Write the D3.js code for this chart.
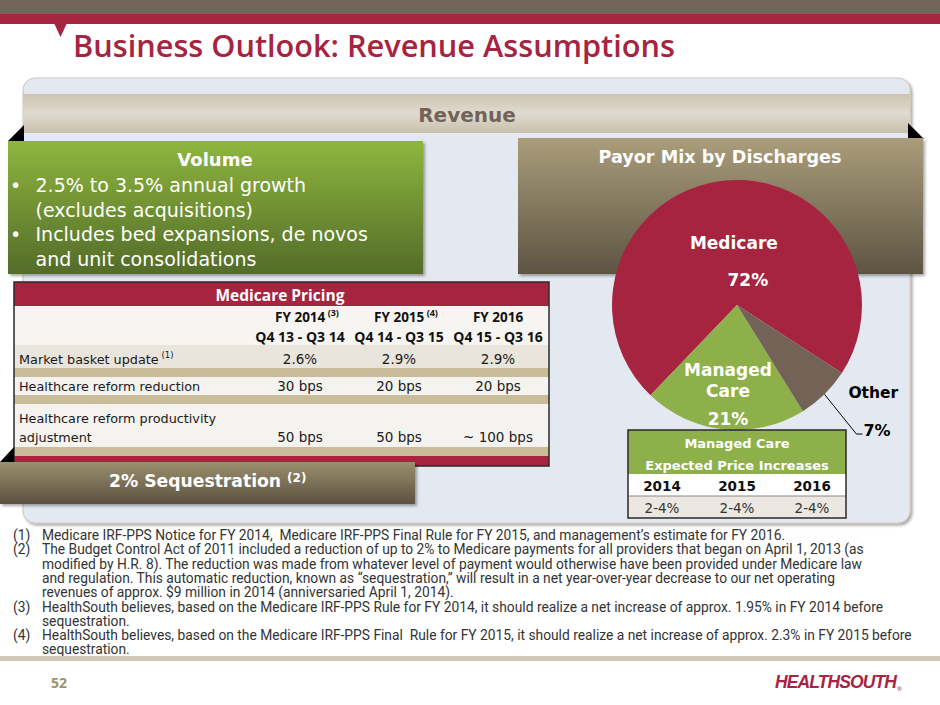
<!DOCTYPE html>
<html>
<head>
<meta charset="utf-8">
<script src="https://cdn.jsdelivr.net/npm/d3@7"></script>
<style>
  html, body { margin: 0; padding: 0; background: #fff; }
  svg { display: block; }
</style>
</head>
<body>
<script>
// Payor mix by discharges (pie)
const payorCategories = ['Medicare', 'Managed Care', 'Other']
const payorShares = [72, 21, 7]

// Medicare pricing table
const pricingYears = ['FY 2014', 'FY 2015', 'FY 2016']
const pricingYearNotes = ['(3)', '(4)', '']
const pricingPeriods = ['Q4 13 - Q3 14', 'Q4 14 - Q3 15', 'Q4 15 - Q3 16']
const pricingLabels = [['Market basket update'], ['Healthcare reform reduction'], ['Healthcare reform productivity', 'adjustment']]
const pricingLabelNotes = ['(1)', '', '']
const marketBasket = ['2.6%', '2.9%', '2.9%']
const reformReduction = ['30 bps', '20 bps', '20 bps']
const productivityAdjustment = ['50 bps', '50 bps', '~ 100 bps']

// Managed care expected price increases
const managedYears = ['2014', '2015', '2016']
const managedIncreases = ['2-4%', '2-4%', '2-4%']

const volumeLines = [
  { bullet: true, text: '2.5% to 3.5% annual growth' },
  { bullet: false, text: '(excludes acquisitions)' },
  { bullet: true, text: 'Includes bed expansions, de novos' },
  { bullet: false, text: 'and unit consolidations' }
]

const footnotes = [
  ['(1)', 'Medicare IRF-PPS Notice for FY 2014,  Medicare IRF-PPS Final Rule for FY 2015, and management\u2019s estimate for FY 2016.'],
  ['(2)', 'The Budget Control Act of 2011 included a reduction of up to 2% to Medicare payments for all providers that began on April 1, 2013 (as'],
  ['', 'modified by H.R. 8). The reduction was made from whatever level of payment would otherwise have been provided under Medicare law'],
  ['', 'and regulation. This automatic reduction, known as \u201csequestration,\u201d will result in a net year-over-year decrease to our net operating'],
  ['', 'revenues of approx. $9 million in 2014 (anniversaried April 1, 2014).'],
  ['(3)', 'HealthSouth believes, based on the Medicare IRF-PPS Rule for FY 2014, it should realize a net increase of approx. 1.95% in FY 2014 before'],
  ['', 'sequestration.'],
  ['(4)', 'HealthSouth believes, based on the Medicare IRF-PPS Final  Rule for FY 2015, it should realize a net increase of approx. 2.3% in FY 2015 before'],
  ['', 'sequestration.']
]

const width = 940
const height = 705
const crimson = '#A6243F'
const gothic = "'DejaVu Sans', sans-serif"
const sans = "'Open Sans', sans-serif"

const svg = d3.select('body').append('svg')
  .attr('width', width)
  .attr('height', height)

const defs = svg.append('defs')
function verticalGradient (id, stops) {
  const g = defs.append('linearGradient')
    .attr('id', id)
    .attr('x1', 0).attr('y1', 0).attr('x2', 0).attr('y2', 1)
  stops.forEach(([offset, colour]) => {
    g.append('stop').attr('offset', offset).attr('stop-color', colour)
  })
}
verticalGradient('grad-revenue', [[0, '#CCC3B0'], [0.5, '#E0DBD0'], [1, '#C9C0AC']])
verticalGradient('grad-green', [[0, '#8EB63E'], [1, '#536C29']])
verticalGradient('grad-tan', [[0, '#AA9D7B'], [1, '#5D5443']])
verticalGradient('grad-seq', [[0, '#9C8F6E'], [1, '#5A5141']])
defs.append('filter')
  .attr('id', 'shadow')
  .attr('x', '-5%').attr('y', '-5%').attr('width', '110%').attr('height', '115%')
  .append('feDropShadow')
  .attr('dx', 2).attr('dy', 2).attr('stdDeviation', 1.5)
  .attr('flood-color', '#000').attr('flood-opacity', 0.35)

// Header bands
svg.append('rect').attr('width', width).attr('height', 14).attr('fill', '#74655A')
svg.append('rect').attr('y', 14).attr('width', width).attr('height', 10).attr('fill', '#A62541')
svg.append('path').attr('d', 'M54,23L67,23L60.5,37Z').attr('fill', '#A62541')
svg.append('text')
  .attr('x', 73).attr('y', 57)
  .attr('font-family', sans).attr('font-weight', 600).attr('font-size', 30.7)
  .attr('fill', crimson)
  .text('Business Outlook: Revenue Assumptions')

// Main panel
svg.append('rect')
  .attr('x', 23).attr('y', 78).attr('width', 887).attr('height', 445).attr('rx', 12)
  .attr('fill', '#E4E9F1').attr('stroke', '#CFC6B0').attr('stroke-width', 1)
  .attr('filter', 'url(#shadow)')
svg.append('rect')
  .attr('x', 23).attr('y', 94).attr('width', 887).attr('height', 39)
  .attr('fill', 'url(#grad-revenue)')
svg.append('text')
  .attr('x', 467).attr('y', 122).attr('text-anchor', 'middle')
  .attr('font-family', gothic).attr('font-weight', 'bold').attr('font-size', 20)
  .attr('fill', '#736357')
  .text('Revenue')

// Folded corners
svg.append('path').attr('d', 'M8,141L24,125L24,141Z').attr('fill', '#000')
svg.append('path').attr('d', 'M908,123L924,139L908,139Z').attr('fill', '#000')

// Volume box
svg.append('rect')
  .attr('x', 8).attr('y', 141).attr('width', 415).attr('height', 133)
  .attr('fill', 'url(#grad-green)').attr('filter', 'url(#shadow)')
svg.append('text')
  .attr('x', 215).attr('y', 166).attr('text-anchor', 'middle')
  .attr('font-family', gothic).attr('font-weight', 'bold').attr('font-size', 18)
  .attr('fill', '#fff')
  .text('Volume')
const volumeY = d3.scaleLinear().domain([0, volumeLines.length - 1]).range([192, 266])
const volume = svg.append('g')
  .attr('font-family', gothic).attr('font-size', 19).attr('fill', '#fff')
volume.selectAll('text.line')
  .data(volumeLines)
  .join('text')
  .attr('class', 'line')
  .attr('x', 35.5)
  .attr('y', (d, i) => volumeY(i))
  .text(d => d.text)
volume.selectAll('text.bullet')
  .data(volumeLines.filter(d => d.bullet))
  .join('text')
  .attr('class', 'bullet')
  .attr('x', 10)
  .attr('y', d => volumeY(volumeLines.indexOf(d)))
  .text('\u2022')

// Payor mix box
svg.append('rect')
  .attr('x', 518).attr('y', 138).attr('width', 405).attr('height', 136)
  .attr('fill', 'url(#grad-tan)').attr('filter', 'url(#shadow)')
svg.append('text')
  .attr('x', 720).attr('y', 163).attr('text-anchor', 'middle')
  .attr('font-family', gothic).attr('font-weight', 'bold').attr('font-size', 17.6)
  .attr('fill', '#fff')
  .text('Payor Mix by Discharges')

// Pie
const payor = payorCategories.map((name, i) => ({ name, share: payorShares[i] }))
const colour = d3.scaleOrdinal()
  .domain(payorCategories)
  .range([crimson, '#8DB04A', '#736357'])
const start = 123 * Math.PI / 180
const pie = d3.pie()
  .value(d => d.share)
  .sort((a, b) => a.share - b.share)
  .startAngle(start)
  .endAngle(start + 2 * Math.PI)
const radius = 125
const arc = d3.arc().innerRadius(0).outerRadius(radius)
const labelArc = r => d3.arc().innerRadius(r).outerRadius(r)
const arcs = pie(payor)
const pieG = svg.append('g').attr('transform', 'translate(737,305)')
pieG.selectAll('path')
  .data(arcs)
  .join('path')
  .attr('d', arc)
  .attr('fill', d => colour(d.data.name))

const pieLabel = pieG.append('g')
  .attr('font-family', gothic).attr('font-weight', 'bold').attr('font-size', 17)
const medicare = arcs.find(d => d.data.name === 'Medicare')
const [mx, my] = labelArc(62).centroid(medicare)
pieLabel.append('text')
  .attr('x', mx + 4).attr('y', my + 6).attr('text-anchor', 'middle').attr('fill', '#fff')
  .text(medicare.data.name)
pieLabel.append('text')
  .attr('x', mx + 18).attr('y', my + 43).attr('text-anchor', 'middle').attr('fill', '#fff')
  .text(medicare.data.share + '%')

const managed = arcs.find(d => d.data.name === 'Managed Care')
const [cx, cy] = labelArc(86).centroid(managed)
managed.data.name.split(' ').forEach((word, i) => {
  pieLabel.append('text')
    .attr('x', cx).attr('y', cy - 14.5 + i * 21).attr('text-anchor', 'middle').attr('fill', '#fff')
    .text(word)
})
pieLabel.append('text')
  .attr('x', cx).attr('y', cy + 34.5).attr('text-anchor', 'middle').attr('fill', '#fff')
  .text(managed.data.share + '%')

const other = arcs.find(d => d.data.name === 'Other')
const [ox, oy] = labelArc(radius).centroid(other)
const [ex, ey] = labelArc(radius + 50).centroid(other)
pieG.append('path')
  .attr('d', `M${ox},${oy}L${ex - 3},${ey + 4}L${ex + 3},${ey + 4}`)
  .attr('fill', 'none').attr('stroke', '#000').attr('stroke-width', 1)
pieLabel.append('text')
  .attr('x', ex - 11).attr('y', ey - 32).attr('fill', '#000').attr('font-size', 15.5)
  .text(other.data.name)
pieLabel.append('text')
  .attr('x', ex + 4).attr('y', ey + 6).attr('fill', '#000').attr('font-size', 16)
  .text(other.data.share + '%')

// Managed care table
const mc = svg.append('g')
const mcX = d3.scalePoint().domain(managedYears).range([662, 812])
mc.append('rect').attr('x', 628).attr('y', 430).attr('width', 218).attr('height', 44).attr('fill', '#8DB04A')
mc.append('rect').attr('x', 628).attr('y', 474).attr('width', 218).attr('height', 22).attr('fill', '#fff')
mc.append('rect').attr('x', 628).attr('y', 496).attr('width', 218).attr('height', 22).attr('fill', '#ECE7E0')
mc.append('line').attr('x1', 628).attr('x2', 846).attr('y1', 496).attr('y2', 496).attr('stroke', '#888')
mc.append('rect').attr('x', 628).attr('y', 430).attr('width', 218).attr('height', 88)
  .attr('fill', 'none').attr('stroke', '#2A2A2A').attr('stroke-width', 1.5)
mc.selectAll('text.head')
  .data(['Managed Care', 'Expected Price Increases'])
  .join('text')
  .attr('class', 'head')
  .attr('x', 737).attr('y', (d, i) => 448 + i * 21.5)
  .attr('text-anchor', 'middle')
  .attr('font-family', gothic).attr('font-weight', 'bold').attr('font-size', 13)
  .attr('fill', '#fff')
  .text(d => d)
mc.selectAll('text.year')
  .data(managedYears)
  .join('text')
  .attr('class', 'year')
  .attr('x', d => mcX(d)).attr('y', 491)
  .attr('text-anchor', 'middle')
  .attr('font-family', gothic).attr('font-weight', 'bold').attr('font-size', 13.5)
  .attr('fill', '#111')
  .text(d => d)
mc.selectAll('text.value')
  .data(managedIncreases)
  .join('text')
  .attr('class', 'value')
  .attr('x', (d, i) => mcX(managedYears[i])).attr('y', 513)
  .attr('text-anchor', 'middle')
  .attr('font-family', gothic).attr('font-size', 13.5)
  .attr('fill', '#333')
  .text(d => d)

// Medicare pricing table
const mp = svg.append('g')
const tableX = 14
const tableW = 535
const bands = [
  { y: 282, h: 24, fill: crimson },
  { y: 306, h: 39, fill: '#F7F5F1' },
  { y: 345, h: 23, fill: '#E9E4DC' },
  { y: 368, h: 9, fill: '#C8BD98' },
  { y: 377, h: 18, fill: '#F5F3EF' },
  { y: 395, h: 9, fill: '#C8BD98' },
  { y: 404, h: 43, fill: '#F5F3EF' },
  { y: 447, h: 9, fill: '#C8BD98' },
  { y: 456, h: 10, fill: crimson }
]
mp.selectAll('rect.band')
  .data(bands)
  .join('rect')
  .attr('class', 'band')
  .attr('x', tableX).attr('y', d => d.y).attr('width', tableW).attr('height', d => d.h)
  .attr('fill', d => d.fill)
mp.append('rect')
  .attr('x', tableX).attr('y', 282).attr('width', tableW).attr('height', 184)
  .attr('fill', 'none').attr('stroke', '#2A2A2A').attr('stroke-width', 1.5)
mp.append('text')
  .attr('x', 280).attr('y', 301).attr('text-anchor', 'middle')
  .attr('font-family', sans).attr('font-weight', 'bold').attr('font-size', 15.5)
  .attr('fill', '#fff')
  .text('Medicare Pricing')

const colX = d3.scalePoint().domain(pricingYears).range([300, 498])
const yearText = mp.selectAll('text.fy')
  .data(pricingYears)
  .join('text')
  .attr('class', 'fy')
  .attr('x', d => colX(d) + (pricingYearNotes[pricingYears.indexOf(d)] ? 7 : 0)).attr('y', 322)
  .attr('text-anchor', 'middle')
  .attr('font-family', sans).attr('font-weight', 'bold').attr('font-size', 13.5)
  .attr('fill', '#111')
yearText.append('tspan').text(d => d)
yearText.append('tspan')
  .attr('dy', -6).attr('font-size', 9)
  .text((d, i) => pricingYearNotes[i] ? ' ' + pricingYearNotes[i] : '')
mp.selectAll('text.period')
  .data(pricingPeriods)
  .join('text')
  .attr('class', 'period')
  .attr('x', (d, i) => colX(pricingYears[i])).attr('y', 342)
  .attr('text-anchor', 'middle')
  .attr('font-family', sans).attr('font-weight', 'bold').attr('font-size', 14)
  .attr('fill', '#111')
  .text(d => d)

const rowBaselines = [364, 391, 442]
const rowValues = [marketBasket, reformReduction, productivityAdjustment]
pricingLabels.forEach((lines, r) => {
  const label = mp.append('text')
    .attr('x', 19)
    .attr('font-family', gothic).attr('font-size', 12.8)
    .attr('fill', '#1A1A1A')
  lines.forEach((line, j) => {
    label.append('tspan')
      .attr('x', 19)
      .attr('y', rowBaselines[r] - (lines.length - 1 - j) * 19)
      .text(line)
  })
  if (pricingLabelNotes[r]) {
    label.append('tspan').attr('dy', -6).attr('font-size', 8.5).text(' ' + pricingLabelNotes[r])
  }
  mp.selectAll(null)
    .data(rowValues[r])
    .join('text')
    .attr('x', (d, i) => colX(pricingYears[i])).attr('y', rowBaselines[r])
    .attr('text-anchor', 'middle')
    .attr('font-family', gothic).attr('font-size', 13.5)
    .attr('fill', '#1A1A1A')
    .text(d => d)
})

// Sequestration box
svg.append('path').attr('d', 'M0,462L14,447L14,462Z').attr('fill', '#000')
svg.append('rect')
  .attr('x', 0).attr('y', 462).attr('width', 415).attr('height', 42)
  .attr('fill', 'url(#grad-seq)').attr('filter', 'url(#shadow)')
const seq = svg.append('text')
  .attr('x', 109).attr('y', 487)
  .attr('font-family', gothic).attr('font-weight', 'bold').attr('font-size', 17.2)
  .attr('fill', '#fff')
seq.append('tspan').text('2% Sequestration ')
seq.append('tspan').attr('dy', -5).attr('font-size', 12).text('(2)')

// Footnotes
const noteY = d3.scaleLinear().domain([0, footnotes.length - 1]).range([540, 654.4])
const notes = svg.append('g')
  .attr('font-family', "Roboto, sans-serif").attr('font-size', 13.8)
  .attr('fill', '#333')
notes.selectAll('text.num')
  .data(footnotes)
  .join('text')
  .attr('class', 'num')
  .attr('x', 13).attr('y', (d, i) => noteY(i))
  .text(d => d[0])
notes.selectAll('text.note')
  .data(footnotes)
  .join('text')
  .attr('class', 'note')
  .attr('x', 42).attr('y', (d, i) => noteY(i))
  .style('white-space', 'pre')
  .text(d => d[1])

// Footer
svg.append('rect').attr('y', 656).attr('width', width).attr('height', 5).attr('fill', '#CFC8B6')
svg.append('text')
  .attr('x', 51).attr('y', 688)
  .attr('font-family', sans).attr('font-weight', 'bold').attr('font-size', 14)
  .attr('fill', '#A0926A')
  .text('52')
const logo = svg.append('text')
  .attr('x', 775).attr('y', 688)
  .attr('font-family', "'Liberation Sans', sans-serif").attr('font-weight', 'bold').attr('font-style', 'italic')
  .attr('font-size', 17.5).attr('letter-spacing', -0.9)
  .attr('fill', crimson)
  .text('HEALTHSOUTH')
const logoWidth = logo.node().getComputedTextLength()
svg.append('text')
  .attr('x', 775 + logoWidth + 1).attr('y', 691)
  .attr('font-family', sans).attr('font-size', 6)
  .attr('fill', crimson)
  .text('\u00AE')
</script>
</body>
</html>
